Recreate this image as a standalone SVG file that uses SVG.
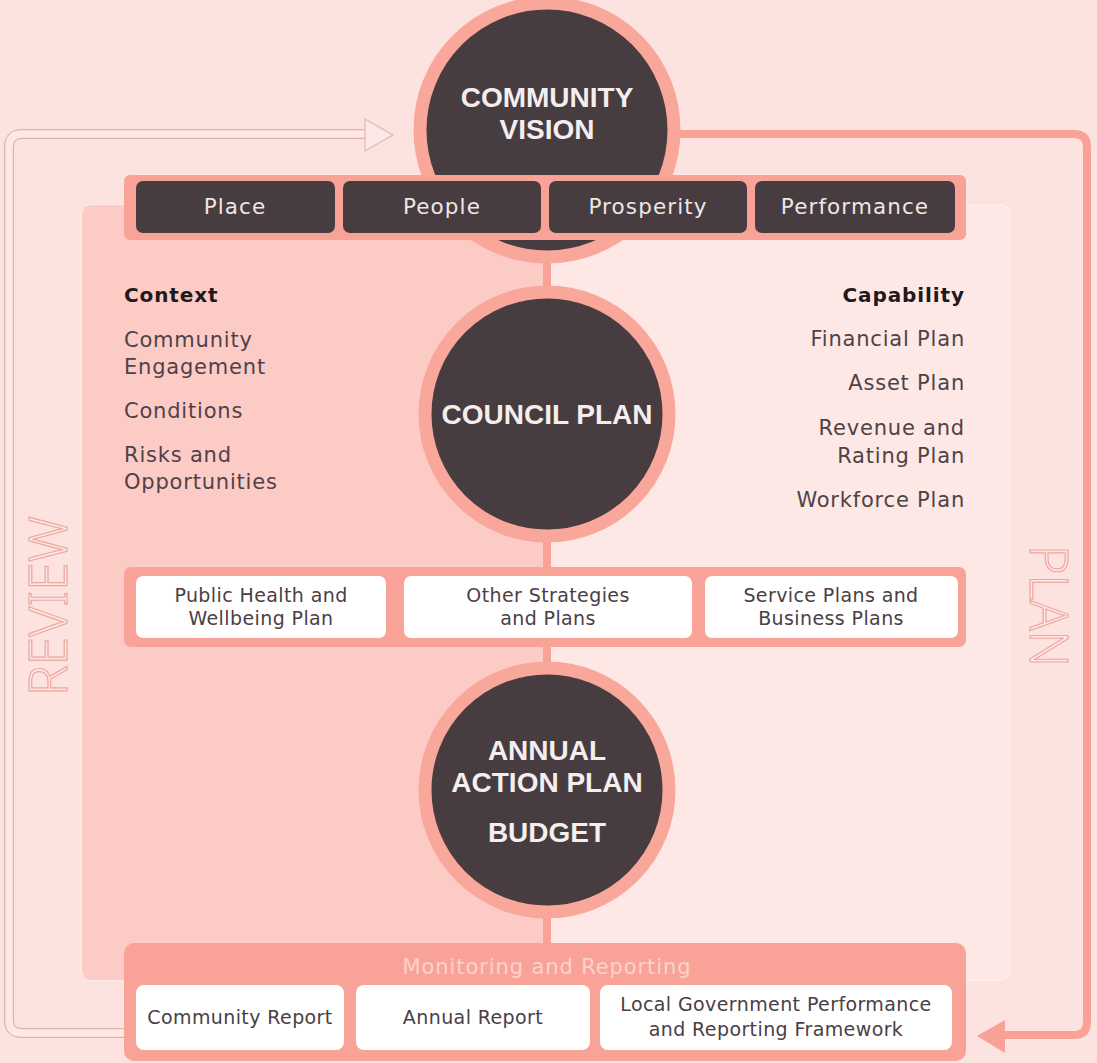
<svg xmlns="http://www.w3.org/2000/svg" width="1097" height="1063" viewBox="0 0 1097 1063">
  <defs>
    <style>
      .dark { fill: #473c3f; }
      .ring { fill: #473c3f; stroke: #f9a69b; stroke-width: 13; }
      .salmon { fill: #f9a398; }
      .white { fill: #ffffff; }
      .circ { font-family: "Liberation Sans", Arial, sans-serif; font-weight: bold; font-size: 28px; fill: #f4eeee; text-anchor: middle; }
      .pill { font-family: "DejaVu Sans", "Noto Sans", sans-serif; font-size: 21.5px; letter-spacing: 1.1px; fill: #efe6e7; text-anchor: middle; }
      .box { font-family: "DejaVu Sans", "Noto Sans", sans-serif; font-size: 19px; letter-spacing: 0.4px; fill: #4a4044; text-anchor: middle; }
      .side { font-family: "DejaVu Sans", "Noto Sans", sans-serif; font-size: 21px; letter-spacing: 0.8px; fill: #4f4246; }
      .head { font-family: "DejaVu Sans", "Noto Sans", sans-serif; font-size: 20px; letter-spacing: 0.9px; font-weight: bold; fill: #1e1a1b; }
      .loop { font-family: "Noto Sans", "Liberation Sans", sans-serif; font-size: 54px; font-weight: 300; fill: #fde6e3; stroke: #eca79f; stroke-width: 1.2; text-anchor: middle; }
    </style>
  </defs>

  <!-- page background -->
  <rect width="1097" height="1063" fill="#fce3df"/>

  <!-- main panel: context side (left) and capability side (right) -->
  <g id="panel">
    <rect x="82" y="205" width="928" height="775" rx="10" fill="#fde8e6" stroke="#fdf0ee" stroke-width="1.5"/>
    <path d="M92 205 H547 V980 H92 Q82 980 82 970 V215 Q82 205 92 205 Z" fill="#fdcbc6"/>
  </g>

  <!-- review / plan cycle -->
  <g id="connectors">
    <!-- review loop: outlined band with hollow arrowhead -->
    <path d="M126 1033 H22 Q9 1033 9 1020 V147 Q9 134 22 134 H368" fill="none" stroke="#dcb3ad" stroke-width="10"/>
    <path d="M126 1033 H22 Q9 1033 9 1020 V147 Q9 134 22 134 H368" fill="none" stroke="#fde8e5" stroke-width="7.5"/>
    <polygon points="365,119 393,135 365,151" fill="#fde8e5" stroke="#e4b6b0" stroke-width="1.2"/>
    <!-- plan loop: solid band with filled arrowhead -->
    <path d="M675 134 H1074 Q1087 134 1087 147 V1022 Q1087 1035 1074 1035 H1000" fill="none" stroke="#f9a197" stroke-width="8"/>
    <polygon points="1005,1020 977,1036 1005,1053" fill="#f9a197"/>
    <!-- spine linking the stages -->
    <line x1="547" y1="250" x2="547" y2="945" stroke="#f9a398" stroke-width="8"/>
  </g>

  <!-- cycle labels -->
  <text class="loop" transform="translate(67 606) rotate(-90)" textLength="180" lengthAdjust="spacingAndGlyphs">REVIEW</text>
  <text class="loop" transform="translate(1030 606) rotate(90)" textLength="122" lengthAdjust="spacingAndGlyphs">PLAN</text>

  <!-- community vision -->
  <g id="community-vision">
    <circle class="ring" cx="547" cy="130" r="127"/>
    <text class="circ" x="547" y="107">COMMUNITY</text>
    <text class="circ" x="547" y="139">VISION</text>
  </g>

  <!-- vision pillars -->
  <g id="pillars">
    <rect class="salmon" x="124" y="175" width="842" height="65" rx="6"/>
    <g id="pillar-place">
      <rect class="dark" x="136" y="181" width="199" height="52" rx="7"/>
      <text class="pill" x="235" y="214">Place</text>
    </g>
    <g id="pillar-people">
      <rect class="dark" x="343" y="181" width="198" height="52" rx="7"/>
      <text class="pill" x="442" y="214">People</text>
    </g>
    <g id="pillar-prosperity">
      <rect class="dark" x="549" y="181" width="198" height="52" rx="7"/>
      <text class="pill" x="648" y="214">Prosperity</text>
    </g>
    <g id="pillar-performance">
      <rect class="dark" x="755" y="181" width="200" height="52" rx="7"/>
      <text class="pill" x="855" y="214">Performance</text>
    </g>
  </g>

  <!-- context list -->
  <g id="context">
    <text class="head" x="124" y="302">Context</text>
    <text class="side" x="124" y="347">Community</text>
    <text class="side" x="124" y="374">Engagement</text>
    <text class="side" x="124" y="418">Conditions</text>
    <text class="side" x="124" y="462">Risks and</text>
    <text class="side" x="124" y="489">Opportunities</text>
  </g>

  <!-- capability list -->
  <g id="capability">
    <text class="head" x="965" y="302" text-anchor="end">Capability</text>
    <text class="side" x="965" y="346" text-anchor="end">Financial Plan</text>
    <text class="side" x="965" y="390" text-anchor="end">Asset Plan</text>
    <text class="side" x="965" y="435" text-anchor="end">Revenue and</text>
    <text class="side" x="965" y="463" text-anchor="end">Rating Plan</text>
    <text class="side" x="965" y="507" text-anchor="end">Workforce Plan</text>
  </g>

  <!-- council plan -->
  <g id="council-plan">
    <circle class="ring" cx="547" cy="414" r="122"/>
    <text class="circ" x="547" y="424">COUNCIL PLAN</text>
  </g>

  <!-- supporting strategies and plans -->
  <g id="strategies">
    <rect class="salmon" x="124" y="567" width="842" height="80" rx="7"/>
    <g id="public-health">
      <rect class="white" x="136" y="576" width="250" height="62" rx="7"/>
      <text class="box" x="261" y="602">Public Health and</text>
      <text class="box" x="261" y="625">Wellbeing Plan</text>
    </g>
    <g id="other-strategies">
      <rect class="white" x="404" y="576" width="288" height="62" rx="7"/>
      <text class="box" x="548" y="602">Other Strategies</text>
      <text class="box" x="548" y="625">and Plans</text>
    </g>
    <g id="service-plans">
      <rect class="white" x="705" y="576" width="253" height="62" rx="7"/>
      <text class="box" x="831" y="602">Service Plans and</text>
      <text class="box" x="831" y="625">Business Plans</text>
    </g>
  </g>

  <!-- annual action plan and budget -->
  <g id="annual-action-plan">
    <circle class="ring" cx="547" cy="790" r="122"/>
    <text class="circ" x="547" y="760">ANNUAL</text>
    <text class="circ" x="547" y="792">ACTION PLAN</text>
    <text class="circ" x="547" y="842">BUDGET</text>
  </g>

  <!-- monitoring and reporting -->
  <g id="monitoring">
    <rect class="salmon" x="124" y="943" width="842" height="118" rx="10"/>
    <text x="547" y="974" text-anchor="middle" font-family="DejaVu Sans, Noto Sans, sans-serif" font-size="21" letter-spacing="0.9" fill="#fcd2cb">Monitoring and Reporting</text>
    <g id="community-report">
      <rect class="white" x="136" y="985" width="208" height="65" rx="8"/>
      <text class="box" x="240" y="1024">Community Report</text>
    </g>
    <g id="annual-report">
      <rect class="white" x="356" y="985" width="234" height="65" rx="8"/>
      <text class="box" x="473" y="1024">Annual Report</text>
    </g>
    <g id="lgprf">
      <rect class="white" x="600" y="985" width="352" height="65" rx="8"/>
      <text class="box" x="776" y="1011">Local Government Performance</text>
      <text class="box" x="776" y="1036">and Reporting Framework</text>
    </g>
  </g>
</svg>
